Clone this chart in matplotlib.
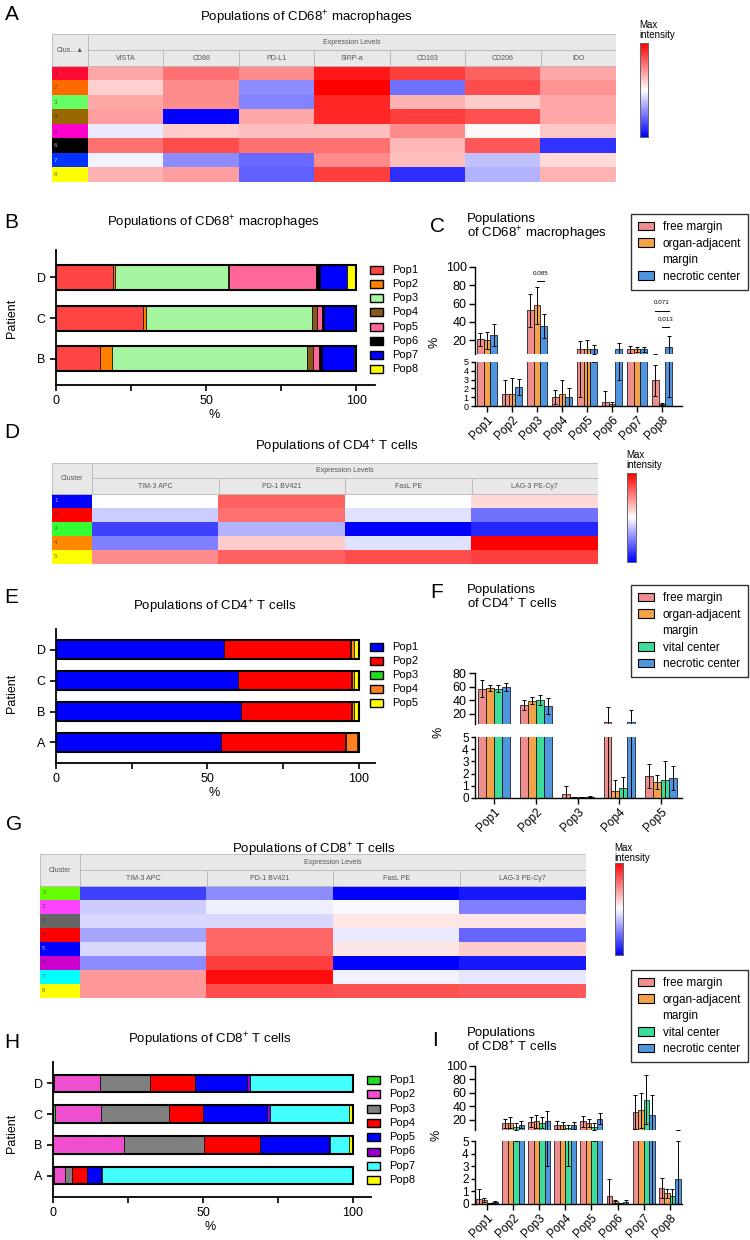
import numpy as np
import matplotlib.pyplot as plt
from matplotlib.patches import Rectangle, Patch
from matplotlib.colors import ListedColormap, to_rgb

plt.rcParams['font.family'] = ['Liberation Sans', 'DejaVu Sans']
plt.rcParams['mathtext.default'] = 'regular'

# ---------------- data ----------------
# A: CD68+ macrophages, scaled expression (-1 = min/blue, +1 = max/red)
a_markers = ['VISTA', 'CD86', 'PD-L1', 'SIRP-a', 'CD163', 'CD206', 'IDO']
a_clusters = ['1', '2', '3', '4', '5', '6', '7', '8']
a_clu_colors = ['#ff0a32', '#ff6a00', '#66ff66', '#996600', '#ff00cc', '#000000', '#0033ff', '#ffff00']
a_vals = [[0.35, 0.55, 0.45, 0.90, 0.75, 0.62, 0.35],
          [0.18, 0.45, -0.45, 1.00, -0.55, 0.70, 0.42],
          [0.35, 0.45, -0.48, 0.85, 0.30, 0.20, 0.35],
          [0.38, -1.00, 0.35, 0.85, 0.75, 0.68, 0.35],
          [-0.08, 0.20, 0.25, 0.25, 0.45, 0.03, 0.22],
          [0.55, 0.70, 0.55, 0.55, 0.28, 0.65, -0.80],
          [-0.05, -0.45, -0.58, 0.45, 0.25, -0.25, 0.15],
          [0.30, 0.38, -0.62, 0.75, -0.82, -0.30, 0.30]]

# B: CD68+ populations per patient (%), rows = patients B, C, D
b_patients = ['B', 'C', 'D']
b_pops = ['Pop1', 'Pop2', 'Pop3', 'Pop4', 'Pop5', 'Pop6', 'Pop7', 'Pop8']
b_colors = ['#ff4444', '#ff8000', '#a6f5a0', '#8b5a1b', '#ff6699', '#000000', '#0000ff', '#ffff00']
b_vals = [[14.8, 4.0, 64.9, 2.1, 1.9, 0.8, 10.7, 0.8],
          [28.9, 1.0, 55.3, 1.8, 1.8, 0.5, 9.9, 0.8],
          [19.1, 0.6, 37.5, 0.5, 29.0, 1.3, 8.9, 3.1]]

# C: CD68+ populations by region (mean %, SD)
c_pops = ['Pop1', 'Pop2', 'Pop3', 'Pop4', 'Pop5', 'Pop6', 'Pop7', 'Pop8']
c_free = [21, 1.4, 53, 1.0, 10, 0.5, 10, 2.9]
c_organ = [20, 1.4, 58, 1.4, 10, 0.2, 10, 0.2]
c_necro = [26, 2.2, 36, 1.0, 10, 10, 10, 13]
c_free_sd = [7, 1.5, 18, 0.8, 9, 1.2, 4, 1.8]
c_organ_sd = [9, 1.8, 20, 1.6, 10, 0.3, 3, 0.1]
c_necro_sd = [12, 0.9, 13, 1.0, 5, 7, 3, 12]

# D: CD4+ T cells heatmap
d_markers = ['TIM-3 APC', 'PD-1 BV421', 'FasL PE', 'LAG-3 PE-Cy7']
d_clusters = ['1', '2', '3', '4', '5']
d_clu_colors = ['#0000ff', '#ff0000', '#33ff33', '#ff8800', '#ffff00']
d_vals = [[0.00, 0.62, 0.00, 0.15],
          [-0.20, 0.55, -0.12, -0.55],
          [-0.75, -0.30, -1.00, -0.85],
          [-0.50, 0.20, -0.12, 1.00],
          [0.45, 0.62, 0.70, 0.75]]

# E: CD4+ populations per patient (%), rows = A, B, C, D
e_patients = ['A', 'B', 'C', 'D']
e_pops = ['Pop1', 'Pop2', 'Pop3', 'Pop4', 'Pop5']
e_colors = ['#0000ff', '#ff0000', '#22dd22', '#ff8020', '#ffff00']
e_vals = [[54.5, 41.0, 0.3, 3.5, 0.7],
          [61.0, 36.5, 0.3, 0.5, 1.7],
          [60.0, 37.5, 0.3, 0.5, 1.7],
          [55.5, 41.5, 0.5, 0.8, 1.7]]

# F: CD4+ populations by region
f_pops = ['Pop1', 'Pop2', 'Pop3', 'Pop4', 'Pop5']
f_free = [57, 33, 0.35, 8, 1.8]
f_organ = [58, 39, 0.05, 0.6, 1.3]
f_vital = [57, 40, 0.05, 0.8, 1.5]
f_necro = [59, 31, 0.1, 8, 1.65]
f_free_sd = [13, 8, 0.65, 22, 1.0]
f_organ_sd = [4, 5, 0.05, 0.9, 0.6]
f_vital_sd = [5, 7, 0.05, 0.9, 1.5]
f_necro_sd = [6, 12, 0.05, 18, 1.0]

# G: CD8+ T cells heatmap
g_markers = ['TIM-3 APC', 'PD-1 BV421', 'FasL PE', 'LAG-3 PE-Cy7']
g_clusters = ['1', '2', '3', '4', '5', '6', '7', '8']
g_clu_colors = ['#66ff00', '#ff44ff', '#666666', '#ff0000', '#0000ff', '#cc00cc', '#00ffff', '#ffff00']
g_vals = [[-0.75, -0.45, -1.00, -0.90],
          [-0.20, -0.07, -0.03, -0.50],
          [-0.15, -0.15, 0.10, 0.10],
          [-0.35, 0.60, -0.08, -0.60],
          [-0.15, 0.60, 0.10, 0.20],
          [-0.45, 0.75, -1.00, -0.90],
          [0.40, 0.95, -0.05, -0.10],
          [0.40, 0.70, 0.68, 0.65]]

# H: CD8+ populations per patient (%), rows = A, B, C, D
h_patients = ['A', 'B', 'C', 'D']
h_pops = ['Pop1', 'Pop2', 'Pop3', 'Pop4', 'Pop5', 'Pop6', 'Pop7', 'Pop8']
h_colors = ['#22dd22', '#f050d0', '#808080', '#ff0000', '#0000ff', '#9900cc', '#44ffff', '#ffff00']
h_vals = [[0.4, 3.5, 2.4, 5.1, 4.6, 0.4, 83.4, 0.2],
          [0.1, 23.5, 26.7, 18.7, 23.0, 0.4, 6.3, 1.3],
          [0.5, 15.5, 22.6, 11.5, 21.3, 0.8, 26.3, 1.5],
          [0.2, 15.3, 16.7, 15.0, 17.5, 0.8, 34.3, 0.2]]

# I: CD8+ populations by region
i_pops = ['Pop1', 'Pop2', 'Pop3', 'Pop4', 'Pop5', 'Pop6', 'Pop7', 'Pop8']
i_free = [0.4, 15, 17, 13, 18, 0.65, 32, 1.25]
i_organ = [0.3, 16, 18, 12, 15, 0.2, 34, 0.85]
i_vital = [0.05, 10, 16, 8, 10, 0.05, 50, 0.6]
i_necro = [0.15, 13, 18, 12, 22, 0.15, 27, 2.0]
i_free_sd = [0.8, 7, 8, 6, 8, 1.3, 25, 0.8]
i_organ_sd = [0.15, 8, 10, 5, 6, 0.15, 26, 0.35]
i_vital_sd = [0.05, 5, 8, 5, 5, 0.05, 36, 0.6]
i_necro_sd = [0.1, 5, 15, 5, 8, 0.2, 30, 3.0]

region_labels = ['free margin', 'organ-adjacent', 'margin', 'vital center', 'necrotic center']
col_free, col_organ, col_vital, col_necro = '#ee8e8e', '#f4a24a', '#3edc9a', '#4f95e0'

# ---------------- helpers ----------------
W, H = 750, 1240
fig = plt.figure(figsize=(7.5, 12.4), dpi=100)


def box(l, t, r, b):
    return [l / W, 1 - b / H, (r - l) / W, (b - t) / H]


def ftext(x, y, s, **kw):
    return fig.text(x / W, 1 - y / H, s, **kw)


def heatmap(px, vals, markers, clusters, clu_colors, clu_head, cbar, maxpos):
    L, CR, R, T, M, DT, B = px
    ax = fig.add_axes(box(L, T, R, B))
    vals = np.array(vals)
    n = len(clusters)
    ax.imshow(vals, cmap='bwr', vmin=-1, vmax=1, extent=(CR, R, B, DT),
              aspect='auto', interpolation='nearest')
    ax.imshow(np.arange(n).reshape(-1, 1), cmap=ListedColormap(clu_colors),
              extent=(L, CR, B, DT), aspect='auto', interpolation='nearest')
    rh = (B - DT) / n
    for i, (lab, c) in enumerate(zip(clusters, clu_colors)):
        lum = np.dot(to_rgb(c), [0.3, 0.59, 0.11])
        ax.text(L + 2, DT + (i + 0.5) * rh, lab, fontsize=4.5, va='center',
                color='white' if lum < 0.3 else '#333333', alpha=0.7)
    hdr = dict(facecolor='#e8e8e8', edgecolor='#b8b8b8', lw=0.6)
    ax.add_patch(Rectangle((L, T), CR - L, DT - T, **hdr))
    ax.add_patch(Rectangle((CR, T), R - CR, M - T, **hdr))
    ax.text(L + (CR - L) / 2, (T + DT) / 2, clu_head, fontsize=5, color='#555555',
            ha='center', va='center')
    ax.text((CR + R) / 2, (T + M) / 2, 'Expression Levels', fontsize=5, color='#555555',
            ha='center', va='center')
    edges = np.linspace(CR, R, len(markers) + 1)
    for k, m in enumerate(markers):
        ax.add_patch(Rectangle((edges[k], M), edges[k + 1] - edges[k], DT - M, **hdr))
        ax.text((edges[k] + edges[k + 1]) / 2, (M + DT) / 2, m, fontsize=5,
                color='#555555', ha='center', va='center')
    ax.set_xlim(L, R)
    ax.set_ylim(B, T)
    ax.axis('off')

    cax = fig.add_axes(box(*cbar))
    cax.imshow(np.linspace(1, -1, 256).reshape(-1, 1), cmap='bwr', vmin=-1, vmax=1,
               aspect='auto')
    cax.set_xticks([])
    cax.set_yticks([])
    for s in cax.spines.values():
        s.set_linewidth(0.7)
        s.set_color('#666666')
    ftext(maxpos[0], maxpos[1], 'Max\nintensity', fontsize=7, va='top', ha='left',
          linespacing=1.05)


def stacked(px, patients, vals, colors, xmax, ylim, height):
    ax = fig.add_axes(box(*px))
    vals = np.array(vals)
    y = np.arange(len(patients))
    left = np.zeros(len(patients))
    for j in range(vals.shape[1]):
        ax.barh(y, vals[:, j], left=left, height=height, color=colors[j],
                edgecolor='k', lw=0.5)
        left = left + vals[:, j]
    ax.barh(y, left, height=height, fill=False, edgecolor='k', lw=1.5)
    ax.set_xlim(0, xmax)
    ax.set_ylim(*ylim)
    ax.set_yticks(y)
    ax.set_yticklabels(patients, fontsize=9)
    ax.set_xticks([0, 50, 100])
    ax.set_xticks([25, 75], minor=True)
    ax.tick_params(axis='both', which='both', length=4, width=1.2, labelsize=9)
    for s in ['top', 'right']:
        ax.spines[s].set_visible(False)
    for s in ['left', 'bottom']:
        ax.spines[s].set_linewidth(1.3)
    return ax


def pop_legend(x, y0, pitch, labels, colors):
    for k, (lab, c) in enumerate(zip(labels, colors)):
        y = y0 + k * pitch
        fig.add_artist(Rectangle((x / W, 1 - (y + 4) / H), 13 / W, 8 / H,
                                 transform=fig.transFigure, facecolor=c,
                                 edgecolor='k', lw=1.0))
        ftext(x + 22, y, lab, fontsize=8, va='center', ha='left')


def split_bars(upper_px, lower_px, pops, series, sds, colors, width, xlim,
               up_lim, up_ticks, low_size):
    axu = fig.add_axes(box(*upper_px))
    axl = fig.add_axes(box(*lower_px))
    x = np.arange(len(pops))
    ns = len(series)
    for i in range(ns):
        xi = x + (i - (ns - 1) / 2) * width
        for ax in (axu, axl):
            ax.bar(xi, series[i], width, color=colors[i], edgecolor='k', lw=0.5,
                   yerr=sds[i], error_kw=dict(ecolor='k', elinewidth=0.7,
                                              capsize=1.4, capthick=0.7))
    for ax in (axu, axl):
        ax.set_xlim(*xlim)
        for s in ['top', 'right']:
            ax.spines[s].set_visible(False)
        ax.spines['left'].set_linewidth(1.0)
        ax.tick_params(axis='y', length=4, width=1.0, labelsize=9, pad=2)
    axl.tick_params(axis='y', labelsize=low_size, length=3, pad=1.5)
    axu.spines['bottom'].set_visible(False)
    axu.set_xticks([])
    axu.set_ylim(*up_lim)
    axu.set_yticks(up_ticks)
    axl.set_ylim(0, 5)
    axl.set_yticks([0, 1, 2, 3, 4, 5])
    axl.spines['bottom'].set_linewidth(1.0)
    axl.set_xticks(x)
    axl.set_xticklabels(pops, rotation=45, ha='right', rotation_mode='anchor',
                        fontsize=8.5)
    axl.tick_params(axis='x', length=4, width=1.0, pad=2)
    return axu, axl


def region_legend(x_right, y_top, labels, colors):
    handles = []
    for lab, c in zip(labels, colors):
        if c is None:
            handles.append(Patch(facecolor='none', edgecolor='none'))
        else:
            handles.append(Patch(facecolor=c, edgecolor='k', lw=0.8))
    leg = fig.legend(handles, labels, loc='upper right',
                     bbox_to_anchor=(x_right / W, 1 - y_top / H), fontsize=8.5,
                     frameon=True, fancybox=False, edgecolor='k', borderpad=0.6,
                     labelspacing=0.38, handlelength=1.3, handleheight=0.7,
                     handletextpad=0.75, borderaxespad=0)
    leg.get_frame().set_linewidth(1.0)
    return leg


title_kw = dict(fontsize=9.5, ha='center', va='center')
label_kw = dict(fontsize=15, ha='left', va='center')

# ---------------- A ----------------
ftext(5, 14, 'A', **label_kw)
ftext(306, 18, 'Populations of CD68$^{+}$ macrophages', **title_kw)
heatmap((52, 88, 616, 34, 50, 66, 182), a_vals, a_markers, a_clusters, a_clu_colors,
        'Clus...▲', (640, 43, 648, 137), (639, 20))

# ---------------- B ----------------
ftext(4, 223, 'B', **label_kw)
ftext(213, 223, 'Populations of CD68$^{+}$ macrophages', **title_kw)
stacked((56, 250, 375, 385), b_patients, b_vals, b_colors, 106.3, (-0.64, 2.67), 0.61)
ftext(12, 318, 'Patient', fontsize=9, rotation=90, ha='center', va='center')
ftext(214, 415, '%', fontsize=9, ha='center', va='center')
pop_legend(370, 270, 14.15, b_pops, b_colors)

# ---------------- C ----------------
ftext(430, 227, 'C', **label_kw)
ftext(467, 228, 'Populations\nof CD68$^{+}$ macrophages', fontsize=9.5, ha='left',
      va='center', linespacing=1.0)
cu, cl = split_bars((475, 267, 682, 354), (475, 362, 682, 406), c_pops,
                    [c_free, c_organ, c_necro], [c_free_sd, c_organ_sd, c_necro_sd],
                    [col_free, col_organ, col_necro], 0.27, (-0.48, 7.8), (5, 100),
                    [20, 40, 60, 80, 100], 6.5)
w = 0.27
cu.plot([2, 2 + w], [85, 85], color='k', lw=0.7)
cu.text(2 + w / 2, 93, '0.085', fontsize=4.5, ha='center', va='center')
cu.plot([7 - w, 7 + w], [52, 52], color='k', lw=0.7)
cu.text(7, 61, '0.071', fontsize=4.5, ha='center', va='center')
cu.plot([7, 7 + w], [34, 34], color='k', lw=0.7)
cu.text(7 + w / 2, 43, '0.013', fontsize=4.5, ha='center', va='center')
ftext(434, 342, '%', fontsize=9, rotation=90, ha='center', va='center')
region_legend(748, 214, ['free margin', 'organ-adjacent', 'margin', 'necrotic center'],
              [col_free, col_organ, None, col_necro])

# ---------------- D ----------------
ftext(4, 432, 'D', **label_kw)
ftext(337, 447, 'Populations of CD4$^{+}$ T cells', **title_kw)
heatmap((52, 92, 598, 463, 478, 494, 564), d_vals, d_markers, d_clusters, d_clu_colors,
        'Cluster', (627, 473, 636, 562), (626, 450))

# ---------------- E ----------------
ftext(4, 598, 'E', **label_kw)
ftext(215, 607, 'Populations of CD4$^{+}$ T cells', **title_kw)
stacked((56, 629, 375, 763), e_patients, e_vals, e_colors, 105.3, (-0.67, 3.68), 0.62)
ftext(12, 693, 'Patient', fontsize=9, rotation=90, ha='center', va='center')
ftext(214, 793, '%', fontsize=9, ha='center', va='center')
pop_legend(370, 647, 14.0, e_pops, e_colors)

# ---------------- F ----------------
ftext(430, 593, 'F', **label_kw)
ftext(467, 598, 'Populations\nof CD4$^{+}$ T cells', fontsize=9.5, ha='left',
      va='center', linespacing=1.0)
split_bars((475, 673, 682, 724), (475, 737, 682, 798), f_pops,
           [f_free, f_organ, f_vital, f_necro],
           [f_free_sd, f_organ_sd, f_vital_sd, f_necro_sd],
           [col_free, col_organ, col_vital, col_necro], 0.19, (-0.46, 4.5), (5, 80),
           [20, 40, 60, 80], 8.5)
ftext(438, 732, '%', fontsize=9, rotation=90, ha='center', va='center')
region_legend(748, 585, region_labels, [col_free, col_organ, None, col_vital, col_necro])

# ---------------- G ----------------
ftext(6, 825, 'G', **label_kw)
ftext(314, 850, 'Populations of CD8$^{+}$ T cells', **title_kw)
heatmap((40, 80, 586, 854, 870, 886, 998), g_vals, g_markers, g_clusters, g_clu_colors,
        'Cluster', (615, 863, 623, 955), (614, 843))

# ---------------- H ----------------
ftext(4, 1042, 'H', **label_kw)
ftext(210, 1040, 'Populations of CD8$^{+}$ T cells', **title_kw)
stacked((53, 1062, 371, 1197), h_patients, h_vals, h_colors, 106.0, (-0.70, 3.70), 0.57)
ftext(12, 1133, 'Patient', fontsize=9, rotation=90, ha='center', va='center')
ftext(210, 1227, '%', fontsize=9, ha='center', va='center')
pop_legend(367, 1080, 14.3, h_pops, h_colors)

# ---------------- I ----------------
ftext(432, 1040, 'I', **label_kw)
ftext(467, 1041, 'Populations\nof CD8$^{+}$ T cells', fontsize=9.5, ha='left',
      va='center', linespacing=1.0)
split_bars((475, 1066, 682, 1130), (475, 1141, 682, 1204), i_pops,
           [i_free, i_organ, i_vital, i_necro],
           [i_free_sd, i_organ_sd, i_vital_sd, i_necro_sd],
           [col_free, col_organ, col_vital, col_necro], 0.21, (-0.46, 7.47), (5, 100),
           [20, 40, 60, 80, 100], 8.5)
ftext(437, 1135, '%', fontsize=9, rotation=90, ha='center', va='center')
region_legend(748, 970, region_labels, [col_free, col_organ, None, col_vital, col_necro])

fig.savefig('out.png', dpi=100)
